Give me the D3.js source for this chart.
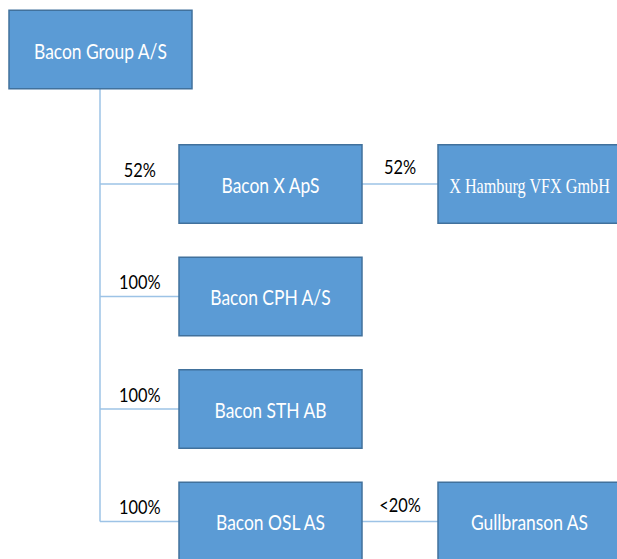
<!DOCTYPE html>
<html>
<head>
<meta charset="utf-8">
<script src="https://cdn.jsdelivr.net/npm/d3@7"></script>
<style>
  html, body { margin: 0; padding: 0; background: #fff; }
  svg { display: block; }
</style>
</head>
<body>
<svg id="chart" width="617" height="559"></svg>
<script>
// ---- data ----
const companies = ["Bacon Group A/S", "Bacon X ApS", "X Hamburg VFX GmbH", "Bacon CPH A/S", "Bacon STH AB", "Bacon OSL AS", "Gullbranson AS"];
const parents   = [null, "Bacon Group A/S", "Bacon X ApS", "Bacon Group A/S", "Bacon Group A/S", "Bacon Group A/S", "Bacon OSL AS"];
const stakes    = [null, "52%", "52%", "100%", "100%", "100%", "<20%"];
const serifNames = ["X Hamburg VFX GmbH"];

// ---- layout ----
const table = companies.map((name, i) => ({ name, parent: parents[i], stake: stakes[i] }));
const root = d3.stratify().id(d => d.name).parentId(d => d.parent)(table);

// rows: root = 0, its children rows 1..n, grandchildren share their parent's row
root.row = 0;
root.children.forEach((c, i) => {
  c.each(d => { d.row = i + 1; });
});
const nodes = root.descendants();

const boxW = 183, boxH = 78.5;
const colX = d3.scaleOrdinal().domain([0, 1, 2]).range([9, 179, 438]);       // left edge by depth
const rowY = d3.scaleLinear().domain([1, 4]).range([184, 521.5]);             // centre of child rows
const rootCY = 49.5;
const cy = d => d.depth === 0 ? rootCY : rowY(d.row);

const svg = d3.select("#chart");
const lineColor = "#9DC3E6";

// trunk
const kids = root.children;
svg.append("line")
  .attr("x1", colX(0) + boxW / 2 - 0.5).attr("x2", colX(0) + boxW / 2 - 0.5)
  .attr("y1", rootCY + boxH / 2).attr("y2", cy(kids[kids.length - 1]))
  .attr("stroke", lineColor).attr("stroke-width", 1.5);

// branches
const links = nodes.filter(d => d.parent);
svg.selectAll("line.branch").data(links).join("line")
  .attr("class", "branch")
  .attr("x1", d => d.depth === 1 ? colX(0) + boxW / 2 - 0.5 : colX(d.depth - 1) + boxW)
  .attr("x2", d => colX(d.depth))
  .attr("y1", d => cy(d)).attr("y2", d => cy(d))
  .attr("stroke", lineColor).attr("stroke-width", 1.5);

// stake labels
svg.selectAll("text.stake").data(links).join("text")
  .attr("class", "stake")
  .attr("text-anchor", "middle")
  .attr("font-family", "Lato, 'Open Sans', sans-serif")
  .attr("font-size", 19.5)
  .attr("fill", "#000")
  .attr("transform", d => {
    const x0 = d.depth === 1 ? colX(0) + boxW / 2 : colX(d.depth - 1) + boxW;
    const x1 = colX(d.depth);
    const off = d.depth === 1 ? 7.5 : 10;
    return `translate(${(x0 + x1) / 2},${cy(d) - off}) scale(0.84,1)`;
  })
  .text(d => d.data.stake);

// boxes
const g = svg.selectAll("g.node").data(nodes).join("g").attr("class", "node");
g.append("rect")
  .attr("x", d => colX(d.depth))
  .attr("y", d => cy(d) - boxH / 2)
  .attr("width", boxW).attr("height", boxH)
  .attr("fill", "#5B9BD5")
  .attr("stroke", "#41719C").attr("stroke-width", 1.5);

g.append("text")
  .attr("text-anchor", "middle")
  .attr("fill", "#fff")
  .attr("font-family", d => serifNames.includes(d.data.name) ? "'Liberation Serif', 'Times New Roman', serif" : "Lato, 'Open Sans', sans-serif")
  .attr("font-size", 21)
  .attr("transform", d => {
    const sx = serifNames.includes(d.data.name) ? 0.77 : 0.83;
    const dy = d.depth === 0 ? 9 : 8.5;
    return `translate(${colX(d.depth) + boxW / 2},${cy(d) + dy}) scale(${sx},1)`;
  })
  .text(d => d.data.name);
</script>
</body>
</html>
